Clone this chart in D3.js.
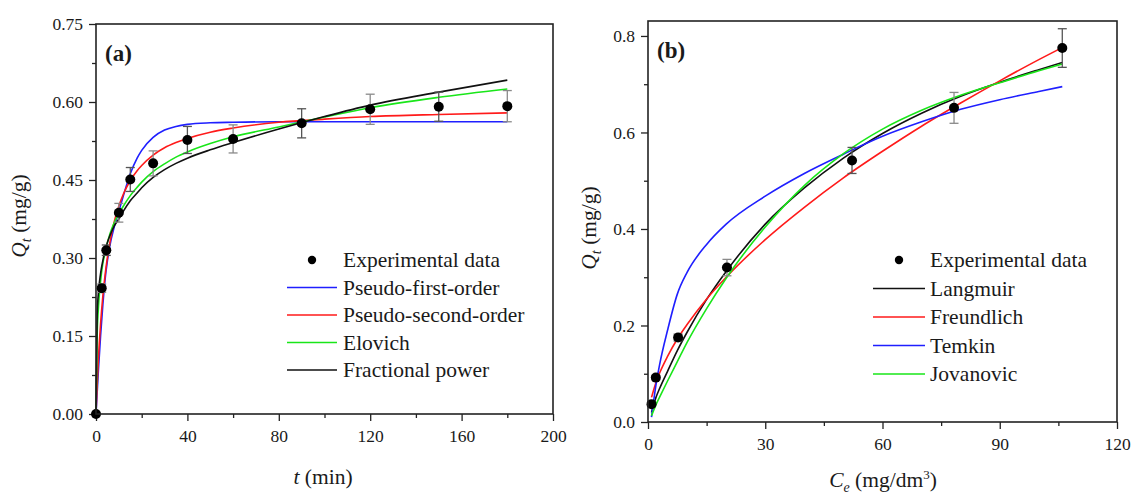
<!DOCTYPE html>
<html><head><meta charset="utf-8">
<script src="https://cdn.jsdelivr.net/npm/d3@7"></script>
</head><body style="margin:0;background:#fff">
<svg id="c" width="1132" height="494" style="font-family: 'Liberation Serif'"></svg>
<script>
// ---------- Panel (a): kinetics ----------
const kinT   = [0, 2.5, 4.5, 10, 15, 25, 40, 60, 90, 120, 150, 180];
const kinQ   = [0, 0.242, 0.315, 0.387, 0.451, 0.482, 0.527, 0.529, 0.559, 0.586, 0.591, 0.592];
const kinErr = [0, 0.008, 0.010, 0.018, 0.023, 0.024, 0.026, 0.027, 0.028, 0.029, 0.028, 0.030];

const fitT = [0, 0.5, 1, 2, 3, 4, 5, 6, 8, 10, 12, 15, 18, 20, 25, 30, 35, 40, 50, 60, 80, 100, 120, 150, 180];
const pfoQ = [0, 0.04, 0.08, 0.15, 0.21, 0.26, 0.295, 0.322, 0.36, 0.39, 0.42, 0.462, 0.492, 0.507, 0.532, 0.546, 0.553, 0.557, 0.560, 0.561, 0.562, 0.562, 0.562, 0.562, 0.562];
const psoQ = [0, 0.055, 0.101, 0.173, 0.227, 0.268, 0.301, 0.328, 0.370, 0.400, 0.423, 0.449, 0.468, 0.478, 0.498, 0.512, 0.522, 0.530, 0.542, 0.550, 0.561, 0.567, 0.572, 0.576, 0.579];
const eloQ = [0, 0.15, 0.20, 0.255, 0.29, 0.31, 0.33, 0.345, 0.368, 0.385, 0.40, 0.42, 0.436, 0.446, 0.466, 0.481, 0.494, 0.504, 0.52, 0.533, 0.552, 0.571, 0.589, 0.609, 0.625];
const fpQ  = [0, 0.19, 0.23, 0.27, 0.295, 0.315, 0.33, 0.342, 0.362, 0.375, 0.39, 0.41, 0.425, 0.435, 0.455, 0.47, 0.482, 0.492, 0.508, 0.522, 0.548, 0.572, 0.594, 0.619, 0.642];

const kinNames  = ["Pseudo-first-order", "Pseudo-second-order", "Elovich", "Fractional power"];
const kinColors = ["#1f1fff", "#ff1a1a", "#19e619", "#111111"];
const kinXTicks = [0, 40, 80, 120, 160, 200];
const kinXMinor = [20, 60, 100, 140, 180];
const kinYTicks = [0, 0.15, 0.30, 0.45, 0.60, 0.75];
const kinYMinor = [0.075, 0.225, 0.375, 0.525, 0.675];

// ---------- Panel (b): isotherms ----------
const isoC   = [0.9, 2.0, 7.7, 20.2, 52.2, 78.3, 106];
const isoQ   = [0.037, 0.092, 0.175, 0.32, 0.542, 0.651, 0.775];
const isoErr = [0.004, 0.005, 0.007, 0.017, 0.027, 0.032, 0.040];

const fitC  = [0.9, 2, 3, 5, 7.5, 10, 15, 20, 30, 40, 50, 60, 70, 80, 90, 100, 106];
const langQ = [0.02, 0.05, 0.07, 0.105, 0.148, 0.186, 0.254, 0.312, 0.41, 0.485, 0.547, 0.598, 0.64, 0.675, 0.704, 0.73, 0.745];
const freuQ = [0.051, 0.081, 0.102, 0.136, 0.172, 0.202, 0.255, 0.300, 0.378, 0.445, 0.506, 0.561, 0.613, 0.661, 0.707, 0.751, 0.776];
const temkQ = [0.01, 0.075, 0.12, 0.19, 0.265, 0.31, 0.368, 0.41, 0.468, 0.515, 0.555, 0.592, 0.622, 0.648, 0.668, 0.685, 0.695];
const jovaQ = [0.013, 0.035, 0.052, 0.085, 0.125, 0.165, 0.235, 0.298, 0.404, 0.49, 0.556, 0.607, 0.646, 0.677, 0.703, 0.728, 0.742];

const isoNames  = ["Langmuir", "Freundlich", "Temkin", "Jovanovic"];
const isoColors = ["#111111", "#ff1a1a", "#1f1fff", "#19e619"];
const isoXTicks = [0, 30, 60, 90, 120];
const isoXMinor = [15, 45, 75, 105];
const isoYTicks = [0, 0.2, 0.4, 0.6, 0.8];
const isoYMinor = [0.1, 0.3, 0.5, 0.7];

const FONT = '"Liberation Serif"';
const svg = d3.select("#c");

function txt(sel) { return sel.style("font-family", FONT).attr("fill", "#1a1a1a"); }

function panel(o) {
  const g = svg.append("g");
  const x = d3.scaleLinear().domain(o.xDom).range([o.left, o.right]);
  const y = d3.scaleLinear().domain(o.yDom).range([o.bottom, o.top]);

  const styleAxis = sel => {
    sel.attr("font-family", null).style("font-family", FONT);
    sel.select(".domain").remove();
    sel.selectAll("line").attr("stroke", "#222").attr("stroke-width", 1.3);
    sel.selectAll("text").attr("font-size", 17.5).attr("fill", "#1a1a1a").style("font-family", FONT);
  };
  g.append("g").attr("transform", `translate(0,${o.bottom})`)
    .call(d3.axisBottom(x).tickValues(o.xTicks).tickSize(7).tickPadding(9).tickFormat(d3.format("d")))
    .call(styleAxis);
  g.append("g").attr("transform", `translate(0,${o.bottom})`)
    .call(d3.axisBottom(x).tickValues(o.xMinor).tickSize(4).tickFormat(""))
    .call(styleAxis);
  g.append("g").attr("transform", `translate(${o.left},0)`)
    .call(d3.axisLeft(y).tickValues(o.yTicks).tickSize(7).tickPadding(6).tickFormat(d3.format(o.yFmt)))
    .call(styleAxis);
  g.append("g").attr("transform", `translate(${o.left},0)`)
    .call(d3.axisLeft(y).tickValues(o.yMinor).tickSize(4).tickFormat(""))
    .call(styleAxis);

  const line = d3.line().x(d => x(d[0])).y(d => y(d[1])).curve(d3.curveMonotoneX);
  o.series.forEach((s, i) => {
    g.append("path")
      .datum(o.fitX.map((v, k) => [v, s[k]]))
      .attr("d", line)
      .attr("fill", "none")
      .attr("stroke", o.colors[i])
      .attr("stroke-width", 1.6);
  });

  const pts = o.px.map((v, k) => ({x: v, q: o.py[k], e: o.pe[k], k}));
  const eb = g.append("g");
  pts.filter(d => d.e > 0).forEach(d => {
    const c = d.k % 2 ? "#8a8a8a" : "#555";
    eb.append("line").attr("x1", x(d.x)).attr("x2", x(d.x))
      .attr("y1", y(d.q - d.e)).attr("y2", y(d.q + d.e)).attr("stroke", c).attr("stroke-width", 1.3);
    [d.q - d.e, d.q + d.e].forEach(v => {
      eb.append("line").attr("x1", x(d.x) - 4.5).attr("x2", x(d.x) + 4.5)
        .attr("y1", y(v)).attr("y2", y(v)).attr("stroke", c).attr("stroke-width", 1.3);
    });
  });

  g.append("g").selectAll("circle").data(pts).join("circle")
    .attr("cx", d => x(d.x)).attr("cy", d => y(d.q)).attr("r", 5).attr("fill", "#000");

  g.append("rect").attr("x", o.left).attr("y", o.top)
    .attr("width", o.right - o.left).attr("height", o.bottom - o.top)
    .attr("fill", "none").attr("stroke", "#222").attr("stroke-width", 1.6);

  txt(g.append("text")).attr("x", o.left + 9).attr("y", o.top + 37)
    .attr("font-size", 23).attr("font-weight", "bold").text(o.letter);

  const lg = g.append("g");
  lg.append("circle").attr("cx", o.leg.mx).attr("cy", o.leg.y0).attr("r", 4.2).attr("fill", "#000");
  txt(lg.append("text")).attr("x", o.leg.tx).attr("y", o.leg.y0 + 7).attr("font-size", 21.5).text("Experimental data");
  o.names.forEach((n, i) => {
    const yy = o.leg.y0 + (i + 1) * o.leg.dy;
    lg.append("line").attr("x1", o.leg.l1).attr("x2", o.leg.l2).attr("y1", yy).attr("y2", yy)
      .attr("stroke", o.colors[i]).attr("stroke-width", 1.6);
    txt(lg.append("text")).attr("x", o.leg.tx).attr("y", yy + 7).attr("font-size", 21.5).text(n);
  });

  const yt = txt(g.append("text")).attr("transform", `translate(${o.ytx},${o.yty}) rotate(-90)`)
    .attr("text-anchor", "middle").attr("font-size", 21.5);
  yt.append("tspan").attr("font-style", "italic").text("Q");
  yt.append("tspan").attr("font-style", "italic").attr("font-size", 14).attr("dy", 5).text("t");
  yt.append("tspan").attr("dy", -5).text(" (mg/g)");

  return {g, x, y};
}

const A = panel({
  xDom: [0, 200], yDom: [0, 0.75], left: 96, right: 553, top: 24, bottom: 414,
  xTicks: kinXTicks, xMinor: kinXMinor, yTicks: kinYTicks, yMinor: kinYMinor, yFmt: ".2f",
  fitX: fitT, series: [pfoQ, psoQ, eloQ, fpQ], colors: kinColors, names: kinNames,
  px: kinT, py: kinQ, pe: kinErr, letter: "(a)",
  leg: {mx: 312, tx: 343, l1: 287, l2: 337, y0: 260, dy: 27.5},
  ytx: 26, yty: 216
});
const xa = txt(A.g.append("text")).attr("x", 323).attr("y", 484).attr("text-anchor", "middle").attr("font-size", 21.5);
xa.append("tspan").attr("font-style", "italic").text("t");
xa.append("tspan").text(" (min)");

const B = panel({
  xDom: [0, 120], yDom: [0, 0.831], left: 648, right: 1117, top: 21, bottom: 422,
  xTicks: isoXTicks, xMinor: isoXMinor, yTicks: isoYTicks, yMinor: isoYMinor, yFmt: ".1f",
  fitX: fitC, series: [langQ, freuQ, temkQ, jovaQ], colors: isoColors, names: isoNames,
  px: isoC, py: isoQ, pe: isoErr, letter: "(b)",
  leg: {mx: 899, tx: 930, l1: 873, l2: 925, y0: 260, dy: 28.5},
  ytx: 596, yty: 228
});
const xb = txt(B.g.append("text")).attr("x", 883).attr("y", 487).attr("text-anchor", "middle").attr("font-size", 21.5);
xb.append("tspan").attr("font-style", "italic").text("C");
xb.append("tspan").attr("font-style", "italic").attr("font-size", 14).attr("dy", 5).text("e");
xb.append("tspan").attr("dy", -5).text(" (mg/dm");
xb.append("tspan").attr("font-size", 13).attr("dy", -8).text("3");
xb.append("tspan").attr("dy", 8).text(")");
</script>
</body></html>
